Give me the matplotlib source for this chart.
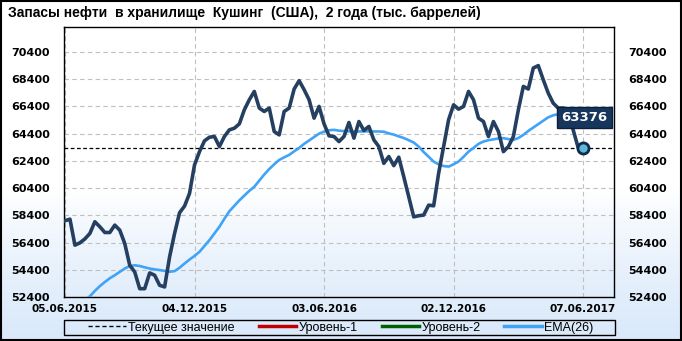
import numpy as np
import matplotlib
matplotlib.use("Agg")
import matplotlib.pyplot as plt
from matplotlib.lines import Line2D

# Запасы нефти в Кушинге, недельные данные (тыс. баррелей)
stocks = [58000, 58120, 56210, 56380, 56670, 57070, 57930, 57560, 57140, 57140,
          57680, 57310, 56330, 54730, 54240, 53010, 53010, 54170, 54000, 53260,
          53140, 55350, 57070, 58590, 59080, 60010, 62100, 63080, 63870, 64140,
          64190, 63450, 64190, 64680, 64800, 65120, 66150, 66890, 67500, 66280,
          66030, 66280, 64560, 64310, 66030, 66280, 67680, 68290, 67630, 66890,
          65540, 66400, 65120, 64240, 64190, 63820, 64190, 65220, 64070, 65290,
          64630, 64930, 63940, 63450, 62220, 62720, 62050, 62670, 61240, 59770,
          58290, 58370, 58420, 59150, 59100, 61490, 63450, 65420, 66520, 66200,
          66400, 67500, 66890, 65540, 65290, 64190, 65290, 64560, 63080, 63450,
          64190, 66150, 67870, 67680, 69220, 69400, 68360, 67380, 66640, 66280,
          66280, 65790, 64680, 63380, 63376]

ema26 = [50900, 51300, 51650, 51950, 52200, 52450, 52850, 53200, 53500, 53780,
         54000, 54250, 54490, 54680, 54730, 54680, 54580, 54490, 54430, 54380,
         54320, 54260, 54300, 54550, 54860, 55150, 55420, 55720, 56150, 56580,
         57070, 57560, 58150, 58700, 59100, 59500, 59850, 60200, 60500, 60950,
         61400, 61800, 62150, 62470, 62660, 62840, 63100, 63350, 63650, 63900,
         64150, 64400, 64550, 64650, 64680, 64620, 64590, 64570, 64560, 64560,
         64570, 64570, 64560, 64560, 64540, 64420, 64330, 64200, 64080, 63920,
         63750, 63450, 63050, 62700, 62350, 62150, 62020, 61980, 62150, 62350,
         62700, 63080, 63350, 63650, 63820, 63920, 63980, 64050, 64070, 64000,
         63940, 64080, 64310, 64600, 64850, 65100, 65350, 65600, 65750, 65830,
         65860, 65850, 65800, 65760, 65710]

date_labels = ["05.06.2015", "04.12.2015", "03.06.2016", "02.12.2016", "07.06.2017"]
y_ticks = [52400, 54400, 56400, 58400, 60400, 62400, 64400, 66400, 68400, 70400]
current = stocks[-1]

title = "Запасы нефти  в хранилище  Кушинг  (США),  2 года (тыс. баррелей)"
narrow = ["Liberation Sans Narrow", "Liberation Sans", "DejaVu Sans"]

x = np.arange(len(stocks))

fig = plt.figure(figsize=(6.82, 3.41), dpi=100)

# фон с градиентом: белый сверху, голубоватый снизу
bg = fig.add_axes([0, 0, 1, 1], zorder=-5)
g = np.linspace(0, 1, 256)
g = np.clip(g / 0.45, 0, 1) ** 1.3
top = np.array([1.0, 1.0, 1.0])
bottom = np.array([0.855, 0.914, 0.98])
img = top * g[:, None, None] + bottom * (1 - g[:, None, None])
bg.imshow(img, aspect="auto", extent=[0, 1, 0, 1], origin="lower")
bg.set_xlim(0, 1)
bg.set_ylim(0, 1)
bg.axis("off")
fig.patches.append(plt.Rectangle((0.001, 0.002), 0.997, 0.995, transform=fig.transFigure,
                                 fill=False, edgecolor="black", linewidth=1.5))

ax = fig.add_axes([0.0938, 0.129, 0.8065, 0.792])
ax.set_facecolor("none")

ax.plot(x, stocks, color="#243f60", lw=2.6, solid_joinstyle="round", zorder=4)
ax.plot(x, ema26, color="#3fa3f7", lw=1.9, zorder=3)
ax.axhline(current, color="black", lw=0.9, ls=(0, (3, 2)), zorder=2)

ax.plot(x[-1], current, "o", ms=8, mfc="#5fb8d6", mec="#102b50", mew=2, zorder=6)
ax.annotate(f"{current}", xy=(x[-1], current), xytext=(1, 22), textcoords="offset points",
            ha="center", va="center", color="white", fontsize=9.5, fontweight="bold",
            bbox=dict(boxstyle="square,pad=0.3", fc="#17365d", ec="#0b1f3a", lw=1), zorder=7)

ax.set_xlim(-0.2, 110.2)
ax.set_ylim(52400, 72240)
ax.set_xticks(x[::26])
ax.set_xticklabels(date_labels)
ax.set_yticks(y_ticks)
ax.tick_params(axis="x", length=0, pad=5, labelsize=7.5)
ax.tick_params(axis="y", length=0, pad=10, labelsize=8, labelright=True, right=True)
for lab in ax.get_xticklabels() + ax.get_yticklabels():
    lab.set_fontweight("bold")
for t in ax.yaxis.get_major_ticks():
    t.label2.set_fontweight("bold")
    t.label2.set_fontsize(8)

ax.grid(True, color="#bfbfbf", ls=(0, (4, 3)), lw=0.8)
for s in ax.spines.values():
    s.set_color("black")
    s.set_linewidth(1)

fig.text(0.012, 0.962, title, fontsize=10, fontweight="bold", family=narrow, va="center")

# легенда в рамке на ширину области графика
fig.patches.append(plt.Rectangle((0.0938, 0.017), 0.808, 0.044, transform=fig.transFigure,
                                 fill=False, edgecolor="black", linewidth=1))
handles = [Line2D([], [], color="black", lw=1, ls=(0, (3, 2))),
           Line2D([], [], color="#c00000", lw=2.5),
           Line2D([], [], color="#006000", lw=2.5),
           Line2D([], [], color="#3fa3f7", lw=2.5)]
labels = ["Текущее значение", "Уровень-1", "Уровень-2", "EMA(26)"]
leg = fig.legend(handles, labels, loc="center", ncol=4,
                 bbox_to_anchor=(0.5, 0.039),
                 prop={"family": narrow, "size": 9},
                 handlelength=3.0, handletextpad=0.2, columnspacing=1.9,
                 frameon=False, borderaxespad=0, borderpad=0)

fig.savefig("out.png", dpi=100)
